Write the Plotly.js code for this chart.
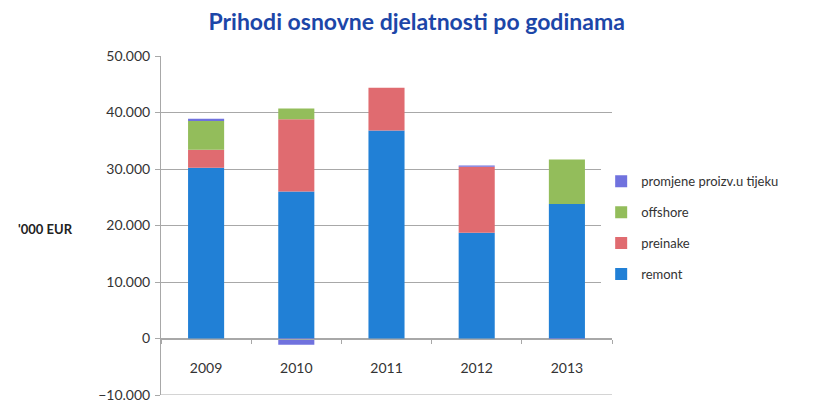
<!DOCTYPE html>
<html>
<head>
<meta charset="utf-8">
<script src="https://cdn.plot.ly/plotly-3.0.1.min.js"></script>
<style>
  body { margin: 0; background: #fff; }
  #plot { width: 825px; height: 405px; }
</style>
</head>
<body>
<div id="plot"></div>
<script>
// godine (kategorije)
let years = ["2009", "2010", "2011", "2012", "2013"];

// vrijednosti po seriji, u '000 EUR (ocitano sa slike)
let remont = [30200, 26000, 36800, 18700, 23800];
let preinake = [3200, 12800, 7600, 11700, 0];
let offshore = [5100, 1900, 0, 0, 7900];
let promjene = [400, -1100, 0, 200, -150];

let yTicks = [-10000, 0, 10000, 20000, 30000, 40000, 50000];

// boje serija
let colRemont = "#2180d6";
let colPreinake = "#e06b70";
let colOffshore = "#93bd5b";
let colPromjene = "#7072de";

function makeTrace(name, values, color, rank) {
    return {
        x: years,
        y: values,
        name: name,
        type: "bar",
        legendgroup: name,
        legendrank: rank,
        marker: { color: color, line: { width: 0 } },
        hoverinfo: "x+y+name"
    };
}

// redoslijed: remont na dnu, promjene na vrhu (legenda obrnuto)
let data = [
    makeTrace("remont", remont, colRemont, 4),
    makeTrace("preinake", preinake, colPreinake, 3),
    makeTrace("offshore", offshore, colOffshore, 2),
    makeTrace("promjene proizv.u tijeku", promjene, colPromjene, 1)
];

let gridColor = "#a8a8a8";

let layout = {
    width: 825,
    height: 405,
    margin: { l: 161, r: 213, t: 56, b: 10 },
    paper_bgcolor: "#ffffff",
    plot_bgcolor: "#ffffff",
    separators: ",.",
    barmode: "relative",
    bargap: 0.6,
    font: { family: "Lato, 'Open Sans', sans-serif", size: 14, color: "#333333" },
    title: {
        text: "<b>Prihodi osnovne djelatnosti po godinama</b>",
        font: { family: "Lato, 'Open Sans', sans-serif", size: 23, color: "#1c46a8" },
        xref: "container",
        x: 0.505,
        xanchor: "center",
        yref: "container",
        y: 0.945,
        yanchor: "middle"
    },
    xaxis: {
        type: "category",
        anchor: "free",
        position: 1 / 6,
        showline: true,
        linecolor: gridColor,
        linewidth: 1,
        ticks: "outside",
        tickson: "boundaries",
        ticklen: 4,
        tickcolor: gridColor,
        ticklabelstandoff: 17,
        showgrid: false,
        zeroline: false,
        tickfont: { size: 14, color: "#333333" }
    },
    yaxis: {
        range: [-10000, 50000],
        tickvals: yTicks,
        tickformat: ",d",
        ticklabeloverflow: "allow",
        showline: true,
        linecolor: gridColor,
        ticks: "outside",
        ticklen: 5,
        tickcolor: gridColor,
        ticklabelstandoff: 2,
        gridcolor: gridColor,
        gridwidth: 1,
        zeroline: false,
        tickfont: { size: 14, color: "#333333" }
    },
    legend: {
        x: 0.976,
        xanchor: "left",
        y: 0.493,
        yanchor: "middle",
        traceorder: "grouped",
        tracegroupgap: 11,
        itemwidth: 30,
        font: { size: 13, color: "#333333" }
    },
    shapes: [{
        // donja linija mreze na -10.000
        type: "line",
        xref: "paper",
        yref: "y",
        x0: 0,
        x1: 1,
        y0: yTicks[0],
        y1: yTicks[0],
        line: { color: gridColor, width: 1 },
        layer: "below"
    }],
    annotations: [{
        text: "<b>'000 EUR</b>",
        xref: "paper",
        yref: "paper",
        x: -0.255,
        y: 0.49,
        xanchor: "center",
        yanchor: "middle",
        showarrow: false,
        font: { size: 13, color: "#222222" }
    }]
};

Plotly.newPlot("plot", data, layout, { displayModeBar: false, staticPlot: true });
</script>
</body>
</html>
